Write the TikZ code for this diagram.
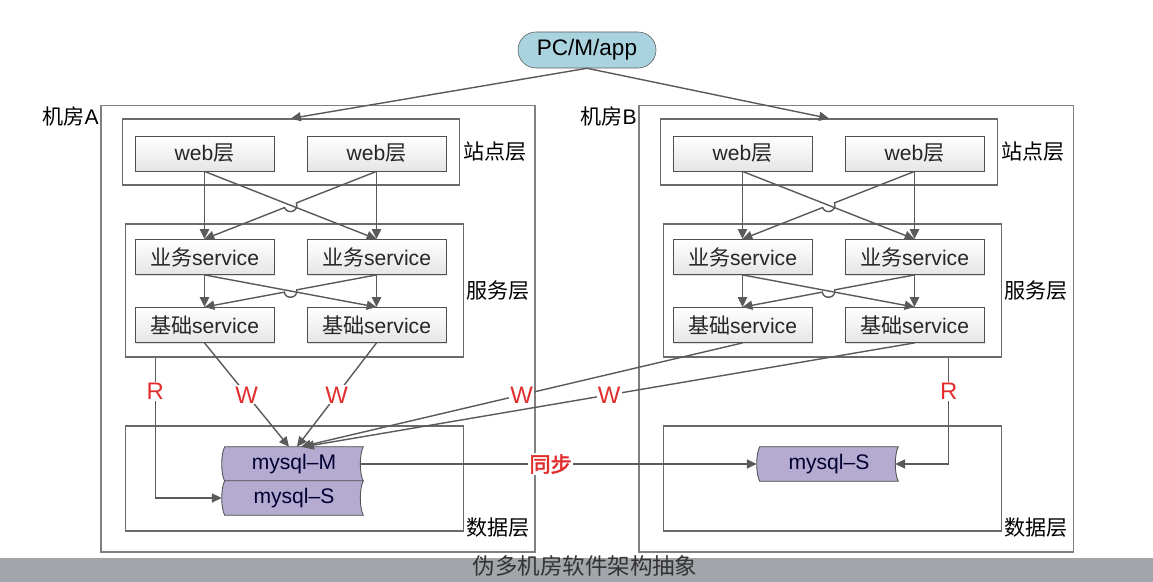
\documentclass[tikz,border=0pt]{standalone}
\usepackage{fontspec}
\setmainfont{Liberation Sans}
\newfontfamily\cjk[AutoFakeBold=2.5]{Noto Sans CJK SC}
\usetikzlibrary{positioning,calc,arrows.meta,shadows,backgrounds}

\definecolor{linegray}{RGB}{90,90,90}
\definecolor{boxgray}{RGB}{80,80,80}
\definecolor{pcblue}{RGB}{170,211,224}
\definecolor{dbpurple}{RGB}{181,170,207}
\definecolor{wred}{RGB}{226,45,45}
\definecolor{bargray}{RGB}{162,165,170}

\newcommand{\zh}[1]{{\cjk #1}}
% stored data shape: name, position, text
\newcommand{\storeddata}[3]{%
  \node[dbtext] (#1) at (#2) {#3};
  \begin{pgfonlayer}{background}
    \draw[dbshape] (#1.north west) .. controls +(-4,8) and +(-4,-8) .. (#1.south west)
      -- (#1.south east) .. controls +(-4,-8) and +(-4,8) .. (#1.north east) -- cycle;
  \end{pgfonlayer}}

\tikzset{
  room/.style={draw=gray, line width=0.8pt, minimum width=10.85cm, minimum height=11.15cm},
  layer/.style={draw=boxgray!85, line width=0.8pt, minimum width=8.43cm},
  part/.style={draw=boxgray, line width=0.6pt, top color=white, bottom color=black!10,
    drop shadow={shadow xshift=1pt, shadow yshift=-1pt, opacity=.25},
    minimum width=3.475cm, minimum height=0.875cm, text=black!85,
    font=\fontsize{15}{16}\selectfont},
  lbl/.style={font=\fontsize{15}{16}\selectfont, inner sep=2pt},
  arr/.style={draw=linegray, line width=1pt, -{Triangle[length=7pt,width=6.5pt]}},
  wlbl/.style={fill=white, text=wred, inner sep=1pt, font=\fontsize{17}{18}\selectfont},
  dbtext/.style={minimum width=3.45cm, minimum height=0.85cm, inner sep=0pt,
    text=black!80!blue, font=\fontsize{15}{16}\selectfont},
  dbshape/.style={fill=dbpurple, draw=boxgray, line width=0.6pt}
}

\begin{document}
\begin{tikzpicture}[x=0.025cm, y=-0.025cm]
\useasboundingbox (0,0) rectangle (1153,582);
\begin{pgfonlayer}{background}
  \fill[white] (0,0) rectangle (1153,582);
\end{pgfonlayer}

% client
\node[draw=linegray, fill=pcblue, rounded corners=0.45cm, minimum width=3.45cm,
  minimum height=0.9cm, font=\fontsize{16}{17}\selectfont] (pc) at (587,50) {PC/M/app};

% two rooms
\foreach \r/\dx in {A/0, B/538} {
  \node[room] (room\r) at (318+\dx,329) {};
  \node[lbl, anchor=north east, inner sep=1pt] (roomlbl\r) at (room\r.north west) {\zh{机房}\r};

  \node[layer, minimum height=1.65cm] (site\r) at (291+\dx,152) {};
  \node[layer, minimum height=3.325cm] (svc\r) at (294.5+\dx,290.5) {};
  \node[layer, minimum height=2.625cm] (data\r) at (294.5+\dx,478.5) {};
  \node[lbl, anchor=west] (sitelbl\r) at (site\r.east) {\zh{站点层}};
  \node[lbl, anchor=west] (svclbl\r) at (svc\r.east) {\zh{服务层}};
  \node[lbl, anchor=west] (datalbl\r) at ($(data\r.south east)+(0,-4)$) {\zh{数据层}};

  \node[part] (web\r1) at (204.5+\dx,153.5) {web\zh{层}};
  \node[part] (web\r2) at (376.5+\dx,153.5) {web\zh{层}};
  \node[part] (biz\r1) at (204.5+\dx,257) {\zh{业务}service};
  \node[part] (biz\r2) at (376.5+\dx,257) {\zh{业务}service};
  \node[part] (base\r1) at (204.5+\dx,325) {\zh{基础}service};
  \node[part] (base\r2) at (376.5+\dx,325) {\zh{基础}service};

  % web -> biz
  \draw[arr] (web\r1.south) -- (biz\r1.north);
  \draw[arr] (web\r2.south) -- (biz\r2.north);
  \draw[arr] (web\r1.south) -- (biz\r2.north);
  \coordinate (xweb\r) at ($(web\r1.south)!.5!(biz\r2.north)$);
  \draw[arr] (web\r2.south) -- ($(xweb\r)!4.5pt!(web\r2.south)$)
    .. controls +(3.1,7.8) and +(3.1,7.8) .. ($(xweb\r)!4.5pt!(biz\r1.north)$) -- (biz\r1.north);

  % biz -> base
  \draw[arr] (biz\r1.south) -- (base\r1.north);
  \draw[arr] (biz\r2.south) -- (base\r2.north);
  \draw[arr] (biz\r1.south) -- (base\r2.north);
  \coordinate (xbiz\r) at ($(biz\r1.south)!.5!(base\r2.north)$);
  \draw[arr] (biz\r2.south) -- ($(xbiz\r)!4.5pt!(biz\r2.south)$)
    .. controls +(1.6,8.2) and +(1.6,8.2) .. ($(xbiz\r)!4.5pt!(base\r1.north)$) -- (base\r1.north);
}

\draw[arr] (pc.south) -- (siteA.north);
\draw[arr] (pc.south) -- (siteB.north);

% databases
\storeddata{mysqlM}{294,464}{mysql--M}
\storeddata{mysqlS}{294,498}{mysql--S}
\storeddata{mysqlSB}{829,464}{mysql--S}

% writes and reads
\draw[arr] (baseA1.south) -- ($(mysqlM.north)+(-5,0)$) node[midway, wlbl] {W};
\draw[arr] (baseA2.south) -- ($(mysqlM.north)+(3,0)$) node[midway, wlbl] {W};
\draw[arr] (baseB1.south) -- ($(mysqlM.north)+(7,0)$) node[midway, wlbl] {W};
\draw[arr] (baseB2.south) -- ($(mysqlM.north)+(10,0)$) node[midway, wlbl] {W};
\draw[arr] ($(svcA.south west)+(30,0)$) |- ($(mysqlS.west)+(-3,0)$) node[pos=.12, wlbl] {R};
\draw[arr] ($(svcB.south east)+(-53,0)$) |- ($(mysqlSB.east)+(-3,0)$) node[pos=.16, wlbl] {R};
\draw[arr] ($(mysqlM.east)+(-3,0)$) -- ($(mysqlSB.west)+(-3,0)$)
  node[pos=.48, wlbl, font=\fontsize{15}{16}\selectfont\bfseries] {\zh{同步}};

% caption bar
\fill[bargray] (0,558) rectangle (1153,582);
\node[font=\fontsize{16}{17}\selectfont, text=black!80] (caption) at (585,566) {\zh{伪多机房软件架构抽象}};
\end{tikzpicture}
\end{document}
